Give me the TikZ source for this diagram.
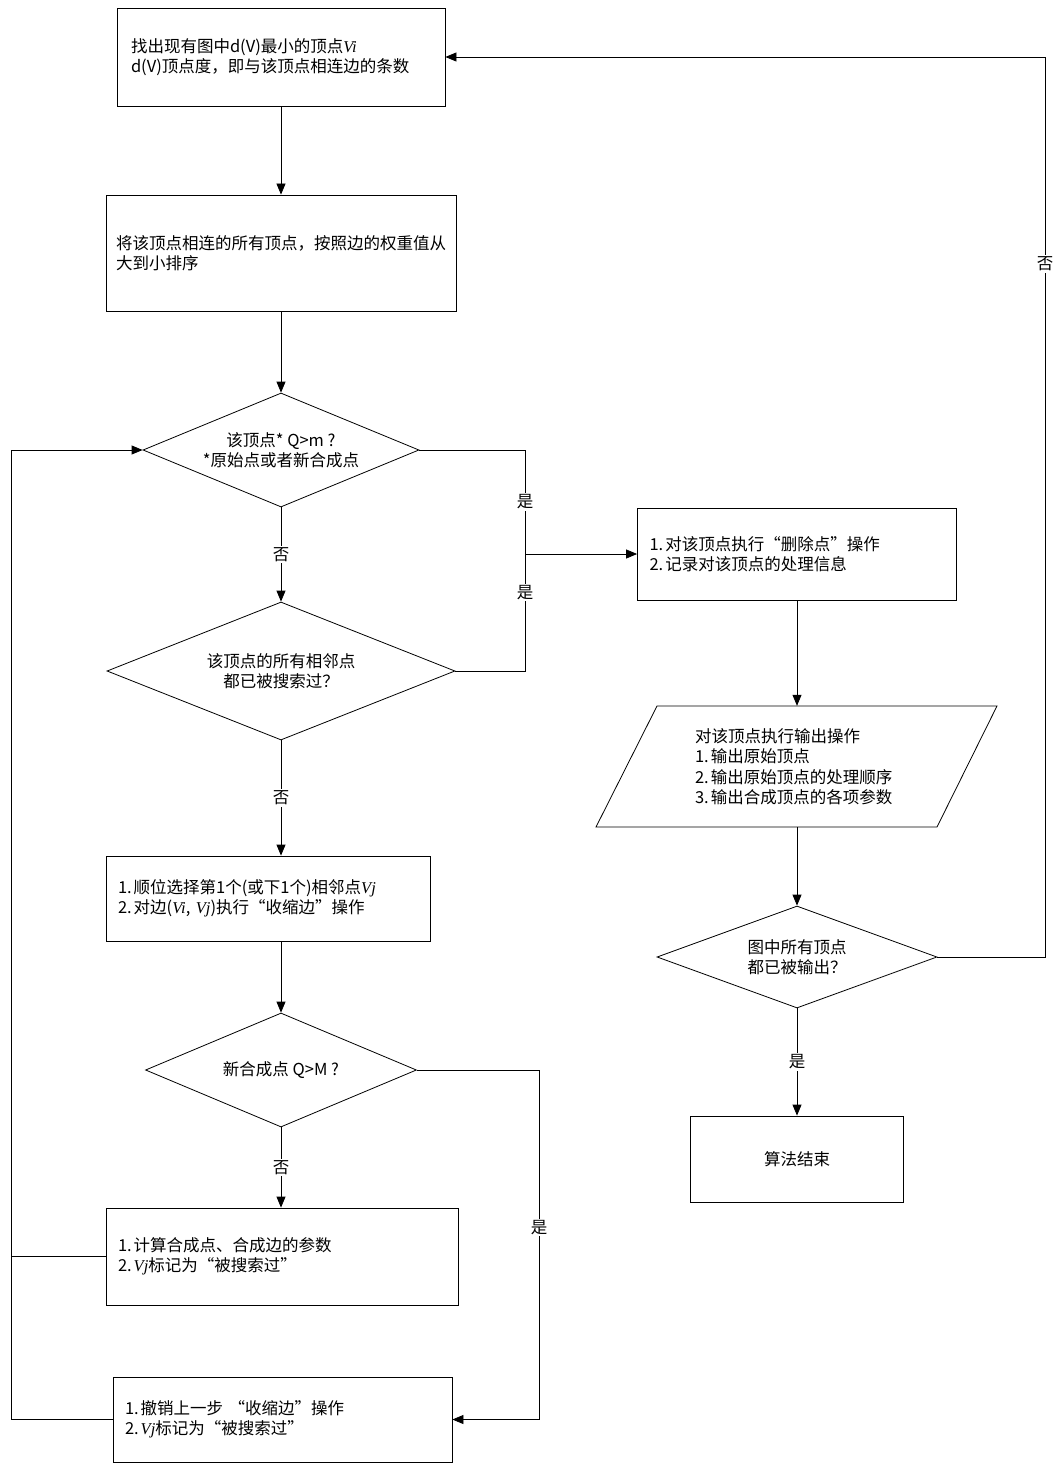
\documentclass[tikz,border=0pt]{standalone}
\usepackage{fontspec}
\setmainfont{Noto Sans CJK SC}
\newfontfamily\tmfont{Liberation Serif}
\newcommand\myVi{{\tmfont\itshape Vi}}
\newcommand\myVj{{\tmfont\itshape Vj}}
\newcommand\itm[1]{#1.\kern2pt}
\usetikzlibrary{shapes.geometric,arrows.meta,calc}
\begin{document}
\begin{tikzpicture}[x=1pt,y=-1pt,
  every node/.style={font={\fontsize{16.5}{20.5}\selectfont}},
  line/.style={draw=black, line width=0.8pt},
  arr/.style={line, -{Triangle[length=11pt,width=9pt]}},
  procbox/.style={draw=black, line width=0.8pt, rectangle, inner xsep=12pt, inner ysep=0pt, align=left},
  decision/.style={draw=black, line width=0.8pt, diamond, inner sep=0pt, align=center},
  lbl/.style={fill=white, inner sep=1.5pt}]
\path[use as bounding box, fill=white] (0,0) rectangle (1055,1463);

% left column
\node[procbox, inner xsep=14pt, text width=300pt, minimum height=98pt] (b1) at (281,57)
  {找出现有图中d(V)最小的顶点\myVi{}\\d(V)顶点度，即与该顶点相连边的条数};
\node[procbox, inner xsep=10pt, text width=330pt, minimum height=116pt] (b2) at (281,253)
  {将该顶点相连的所有顶点，按照边的权重值从\\大到小排序};
\node[decision, minimum width=276pt, minimum height=114pt, aspect=2.42] (d1) at (281,450)
  {该顶点* Q>m ?\\*原始点或者新合成点};
\node[decision, minimum width=348pt, minimum height=138pt, aspect=2.52] (d2) at (281,671)
  {该顶点的所有相邻点\\都已被搜索过？};
\node[procbox, text width=300pt, minimum height=85pt] (b4) at (268,898.5)
  {\itm1顺位选择第1个(或下1个)相邻点\myVj{}\\\itm2对边(\myVi{}, \myVj{})执行“收缩边”操作};
\node[decision, minimum width=271pt, minimum height=114pt, aspect=2.38] (d3) at (281,1070)
  {新合成点 Q>M ?};
\node[procbox, text width=328pt, minimum height=97pt] (b5) at (282,1256.5)
  {\itm1计算合成点、合成边的参数\\\itm2\myVj{}标记为“被搜索过”};
\node[procbox, text width=315pt, minimum height=85pt] (b6) at (282.5,1419.5)
  {\itm1撤销上一步 “收缩边”操作\\\itm2\myVj{}标记为“被搜索过”};

% right column
\node[procbox, text width=295pt, minimum height=92pt] (b3) at (797,554)
  {\itm1对该顶点执行“删除点”操作\\\itm2记录对该顶点的处理信息};
\node[inner sep=0pt, text width=204pt, minimum height=121pt, align=left] (out) at (797,766.5)
  {对该顶点执行输出操作\\\itm1输出原始顶点\\\itm2输出原始顶点的处理顺序\\\itm3输出合成顶点的各项参数};
\draw[line] ($(out.center)+(-140,-60.5)$) -- ($(out.center)+(200,-60.5)$)
  -- ($(out.center)+(140,60.5)$) -- ($(out.center)+(-201,60.5)$) -- cycle;
\node[decision, minimum width=280pt, minimum height=102pt, aspect=2.75, align=left] (d4) at (797,957)
  {图中所有顶点\\都已被输出？};
\node[procbox, text width=189pt, minimum height=86pt, align=center] (b7) at (797,1159)
  {算法结束};

\coordinate (jx) at (525,554);
\coordinate (rx) at (539,0);
\coordinate (lx) at (11,0);
\coordinate (rr) at (1045,0);

% main flow
\draw[arr] (b1.south) -- (b2.north);
\draw[arr] (b2.south) -- (d1.north);
\draw[arr] (d1.south) -- node[lbl]{否} (d2.north);
\draw[arr] (d2.south) -- node[lbl]{否} (d2.south |- b4.north);
\draw[arr] (b4.south -| d3.north) -- (d3.north);
\draw[arr] (d3.south) -- node[lbl]{否} (d3.south |- b5.north);

% yes branches to delete
\draw[line] (d1.east) -- (d1.east -| jx) -- node[lbl]{是} (jx);
\draw[line] (d2.east) -- (d2.east -| jx) -- node[lbl,pos=0.67]{是} (jx);
\draw[arr] (jx) -- (b3.west);

% right column flow
\draw[arr] (b3.south) -- (b3.south |- out.north);
\draw[arr] (out.south) -- (d4.north);
\draw[arr] (d4.south) -- node[lbl]{是} (b7.north);
\draw[arr] (d4.east) -- (d4.east -| rr) -- node[lbl,pos=0.77]{否} (b1.east -| rr) -- (b1.east);

% d3 yes branch
\draw[arr] (d3.east) -- (d3.east -| rx) -- node[lbl,pos=0.45]{是} (b6.east -| rx) -- (b6.east);

% loop back
\draw[line] (b5.west) -- (b5.west -| lx);
\draw[arr] (b6.west) -- (b6.west -| lx) -- (d1.west -| lx) -- (d1.west);
\end{tikzpicture}
\end{document}
